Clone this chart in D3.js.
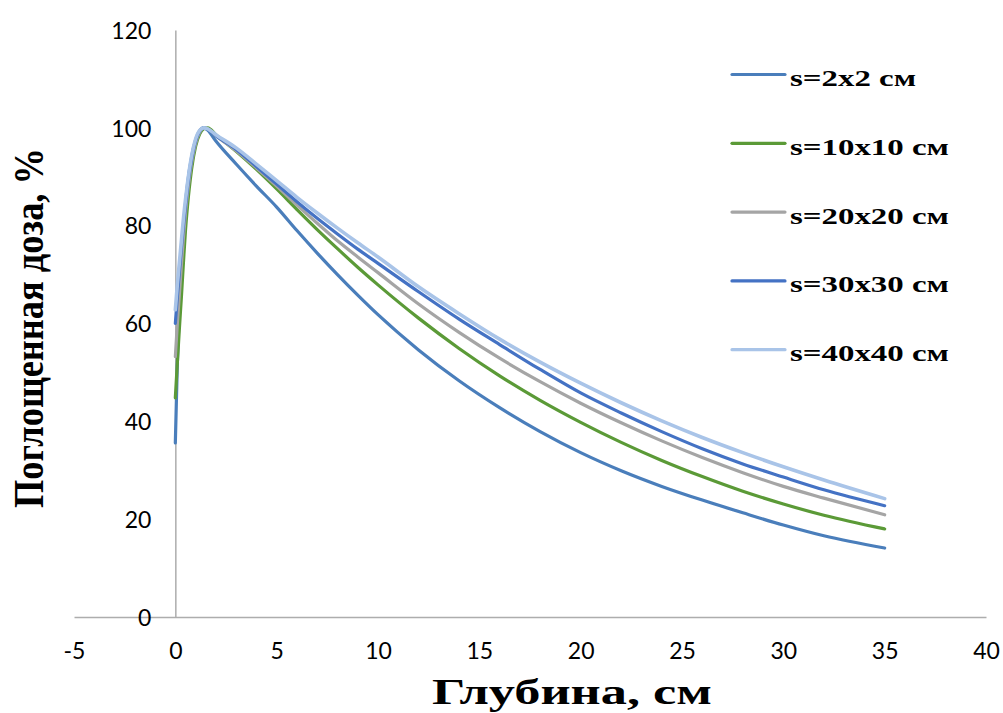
<!DOCTYPE html>
<html lang="ru">
<head>
<meta charset="utf-8">
<script src="https://cdn.jsdelivr.net/npm/d3@7"></script>
<style>
  html, body { margin: 0; padding: 0; background: #fff; }
  svg { display: block; }
</style>
</head>
<body>
<svg id="chart" width="1003" height="713"></svg>
<script>
// Depth in water, cm
const depth = [0, 0.1, 0.2, 0.3, 0.4, 0.5, 0.6, 0.8, 1.0, 1.2, 1.4, 1.6, 2, 3, 4, 5, 6, 7, 8, 9, 10,
               12, 14, 16, 18, 20, 22, 24, 26, 28, 30, 32, 35];

// Percentage depth dose for each field size
const dose2x2   = [35.6, 52, 63, 72, 79, 84.5, 88.5, 94, 97.5, 99.4, 100, 99.5, 97.3, 92.6, 88.1, 83.8, 79.0, 74.4, 70.0, 65.8, 61.8,
                   54.6, 48.3, 42.8, 37.9, 33.6, 29.9, 26.7, 23.9, 21.3, 18.8, 16.6, 14.1];
const dose10x10 = [44.8, 52, 59, 65.5, 72.5, 79, 84, 91.5, 96.2, 98.7, 99.8, 100, 98.6, 95.2, 91.5, 87.5, 83.3, 79.2, 75.3, 71.5, 67.9,
                   61.1, 54.9, 49.3, 44.3, 39.8, 35.7, 32.0, 28.7, 25.7, 23.1, 20.8, 18.0];
const dose20x20 = [53.2, 60, 66, 72, 77.5, 82.5, 86.5, 92.8, 96.8, 99.1, 100, 99.8, 98.4, 95.3, 91.8, 88.1, 84.2, 80.5, 76.9, 73.6, 70.4,
                   64.0, 58.2, 52.9, 48.1, 43.7, 39.7, 36.0, 32.6, 29.5, 26.7, 24.3, 20.9];
const dose30x30 = [60.0, 65.5, 70.5, 75.5, 80, 84, 87.8, 93.5, 97.3, 99.3, 100, 99.7, 98.4, 95.6, 92.1, 88.5, 84.9, 81.5, 78.3, 75.2, 72.3,
                   66.5, 60.9, 55.7, 50.6, 45.8, 41.7, 37.9, 34.4, 31.3, 28.6, 26.0, 22.75];
const dose40x40 = [62.8, 68, 72.5, 77, 81.5, 85.3, 88.7, 94.2, 97.7, 99.5, 100, 99.8, 98.6, 95.9, 92.6, 89.2, 85.8, 82.6, 79.5, 76.5, 73.6,
                   67.5, 62.0, 56.8, 52.1, 47.8, 43.8, 40.1, 36.7, 33.6, 30.7, 28.0, 24.2];

const seriesNames  = ["s=2x2 см", "s=10x10 см", "s=20x20 см", "s=30x30 см", "s=40x40 см"];
const seriesValues = [dose2x2, dose10x10, dose20x20, dose30x30, dose40x40];
const seriesColors = ["#4A7EBB", "#5B9A37", "#A5A5A5", "#4472C4", "#A9C4E8"];

const xTicks = [-5, 0, 5, 10, 15, 20, 25, 30, 35, 40];
const yTicks = [0, 20, 40, 60, 80, 100, 120];

const xTitle = "Глубина, см";
const yTitle = "Поглощенная доза, %";

const svg = d3.select("#chart");

const x = d3.scaleLinear().domain([-5, 40]).range([74, 986]);
const y = d3.scaleLinear().domain([0, 120]).range([617, 30]);

const axisColor = "#ADADAD";
const tickFont = "Lato, 'Open Sans', sans-serif";
const titleFont = "'Liberation Serif', 'Times New Roman', serif";

// Horizontal axis at dose = 0, vertical axis at depth = 0
const xAxis = d3.axisBottom(x).tickValues(xTicks).tickSize(0).tickPadding(0).tickFormat(d => String(d));
const xg = svg.append("g").attr("transform", `translate(0,${y(0)})`).call(xAxis);
xg.select(".domain").attr("stroke", axisColor).attr("stroke-width", 1.5);
xg.selectAll(".tick text")
  .attr("y", 42).attr("dy", null)
  .attr("font-family", tickFont).attr("font-size", 23).attr("fill", "#000");

const yAxis = d3.axisLeft(y).tickValues(yTicks).tickSize(0).tickPadding(0).tickFormat(d => String(d));
const yg = svg.append("g").attr("transform", `translate(${x(0)},0)`).call(yAxis);
yg.select(".domain").attr("stroke", axisColor).attr("stroke-width", 1.5);
yg.selectAll(".tick text")
  .attr("x", -24).attr("dy", "0.36em")
  .attr("font-family", tickFont).attr("font-size", 23).attr("fill", "#000");

// Dose curves
const line = d3.line()
  .x((d, i) => x(depth[i]))
  .y(d => y(d))
  .curve(d3.curveMonotoneX);

svg.append("g").selectAll("path")
  .data(seriesValues)
  .join("path")
  .attr("d", d => line(d))
  .attr("fill", "none")
  .attr("stroke", (d, i) => seriesColors[i])
  .attr("stroke-width", (d, i) => i === 4 ? 3.6 : 3.2)
  .attr("stroke-linejoin", "round")
  .attr("stroke-linecap", "round");

// Legend
const legend = svg.append("g");
const rows = legend.selectAll("g")
  .data(seriesNames)
  .join("g")
  .attr("transform", (d, i) => `translate(732,${74.5 + i * 68.8})`);
rows.append("line")
  .attr("x1", 0).attr("x2", 53).attr("y1", 0).attr("y2", 0)
  .attr("stroke", (d, i) => seriesColors[i])
  .attr("stroke-width", 3.2)
  .attr("stroke-linecap", "round");
rows.append("text")
  .attr("transform", "translate(58,11.5) scale(1.4,1)")
  .attr("font-family", titleFont).attr("font-weight", "bold").attr("font-size", 23.5)
  .attr("fill", "#000")
  .text(d => d);

// Axis titles
svg.append("text")
  .attr("x", 572).attr("y", 704)
  .attr("text-anchor", "middle")
  .attr("font-family", titleFont).attr("font-weight", "bold").attr("font-size", 35)
  .attr("textLength", 280).attr("lengthAdjust", "spacingAndGlyphs")
  .attr("fill", "#000")
  .text(xTitle);

svg.append("text")
  .attr("transform", "translate(43,328) rotate(-90)")
  .attr("text-anchor", "middle")
  .attr("font-family", titleFont).attr("font-weight", "bold").attr("font-size", 42)
  .attr("textLength", 360).attr("lengthAdjust", "spacingAndGlyphs")
  .attr("fill", "#000")
  .text(yTitle);
</script>
</body>
</html>
